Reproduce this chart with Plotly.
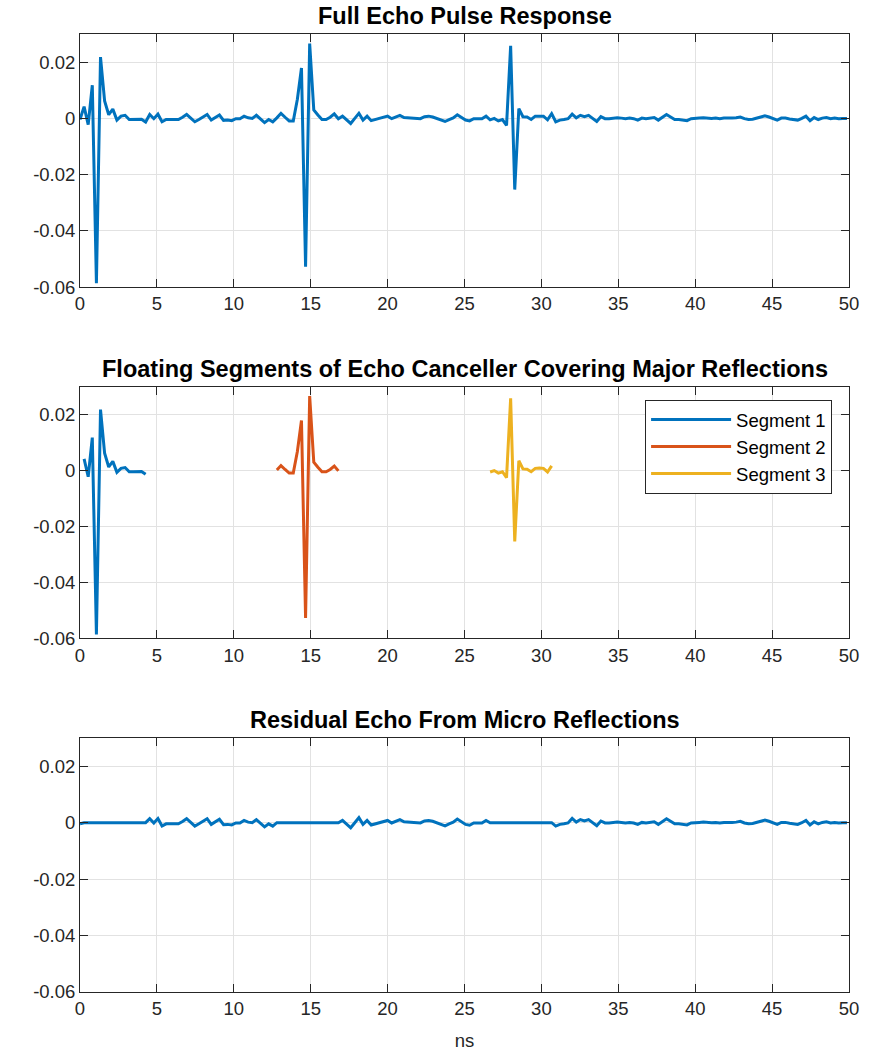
import plotly.graph_objects as go
from plotly.subplots import make_subplots

# ---- data ----
sample_period_ns = 4.0 / 15.0          # 3.75 GS/s sampling
n_samples = 188
time_ns = [i * sample_period_ns for i in range(n_samples)]

# full echo pulse response (units of 1e-3)
full_echo_milli = [
    -0.4, 4.2, -2.2, 11.8, -58.6, 21.8, 6.2, 1.3, 3.3, -0.6,
    0.8, 1.1, -0.4, -0.4, -0.4, -0.3, -1.3, 1.4, -0.1, 1.5,
    -1.2, -0.4, -0.4, -0.4, -0.4, 0.4, 1.4, 0.1, -1.2, -0.4,
    0.6, 1.4, -0.6, 0.4, 1.2, -0.7, -0.6, -0.8, -0.1, -0.1,
    0.8, 0.2, 0.0, 1.1, -0.1, -1.5, -0.4, -1.2, 0.2, 1.8,
    0.4, -0.9, -0.9, 6.8, 17.9, -52.7, 26.6, 3.0, 1.2, -0.4,
    -0.4, 0.4, 1.6, -0.1, 0.8, -0.6, -1.8, 0.0, 1.8, -0.6,
    0.8, -0.8, -0.4, -0.1, 0.4, 0.8, -0.1, 0.4, 1.1, 0.3,
    0.2, -0.1, -0.1, -0.1, 0.6, 0.8, 0.5, 0.0, -0.6, -1.1,
    -0.4, 0.2, 1.3, 0.2, -0.6, -0.9, -0.1, -0.1, -0.1, 0.8,
    -0.5, 0.0, -0.9, -0.4, -2.5, 25.8, -25.3, 3.5, 0.6, 0.5,
    -0.4, 0.8, 0.9, 0.8, -0.5, 1.7, -1.2, -0.6, -0.4, -0.1,
    1.5, 0.2, 1.1, 0.6, 1.1, 0.0, -1.1, 0.6, -0.1, -0.1,
    0.1, 0.2, 0.1, -0.1, 0.1, -0.1, -0.6, 0.1, -0.1, 0.1,
    0.3, -0.6, 0.5, 1.4, 0.5, -0.4, -0.4, -0.5, -0.8, -0.1,
    -0.1, 0.1, 0.2, 0.0, 0.0, 0.1, -0.1, 0.1, 0.0, 0.1,
    0.2, 0.5, -0.1, -0.4, -0.3, 0.1, 0.6, 0.9, 0.5, -0.1,
    -0.6, 0.1, 0.1, -0.2, -0.4, -0.6, 0.0, 0.8, -0.8, 0.3,
    -0.4, 0.1, 0.3, -0.1, 0.1, -0.1, 0.0, 0.0,
]
full_echo = [v * 1e-3 for v in full_echo_milli]

segment_names = ["Segment 1", "Segment 2", "Segment 3"]
segment_start_idx = [1, 48, 100]
segment_length = 16
segment_colors = ["#0072BD", "#D95319", "#EDB120"]

x_ticks = [0, 5, 10, 15, 20, 25, 30, 35, 40, 45, 50]
y_ticks = [-0.06, -0.04, -0.02, 0, 0.02]
y_tick_text = ["-0.06", "-0.04", "-0.02", "0", "0.02"]

titles = ["Full Echo Pulse Response",
          "Floating Segments of Echo Canceller Covering Major Reflections",
          "Residual Echo From Micro Reflections"]

# residual = full echo with segment windows cancelled
residual = list(full_echo)
for s in segment_start_idx:
    for i in range(s, s + segment_length):
        residual[i] = 0.0

# ---- figure ----
FONT = "Arial, Liberation Sans, Helvetica, sans-serif"
fig = make_subplots(rows=3, cols=1)

fig.add_trace(go.Scatter(x=time_ns, y=full_echo, mode="lines",
                         line=dict(color="#0072BD", width=3), showlegend=False),
              row=1, col=1)
for name, s, c in zip(segment_names, segment_start_idx, segment_colors):
    fig.add_trace(go.Scatter(x=time_ns[s:s + segment_length],
                             y=full_echo[s:s + segment_length], mode="lines",
                             name=name, line=dict(color=c, width=3)),
                  row=2, col=1)
fig.add_trace(go.Scatter(x=time_ns, y=residual, mode="lines",
                         line=dict(color="#0072BD", width=3), showlegend=False),
              row=3, col=1)

domains = [[0.7357, 1.0], [0.3690, 0.6319], [0.0, 0.2651]]
axis_common = dict(showline=True, linecolor="#262626", linewidth=1, mirror="ticks",
                   ticks="inside", ticklen=8, tickcolor="#262626", tickwidth=1,
                   showgrid=True, gridcolor="#e2e2e2", gridwidth=1, zeroline=False,
                   automargin=False,
                   tickfont=dict(family=FONT, size=18.5, color="#262626"))
for r in range(3):
    xa = "xaxis" if r == 0 else f"xaxis{r+1}"
    ya = "yaxis" if r == 0 else f"yaxis{r+1}"
    fig.layout[xa].update(domain=[0, 1], range=[0, 50], tickvals=x_ticks, **axis_common)
    fig.layout[ya].update(domain=domains[r], range=[-0.06, 0.03], tickvals=y_ticks,
                          ticktext=y_tick_text, **axis_common)
    fig.add_annotation(text=f"<b>{titles[r]}</b>", xref="paper", yref="paper",
                       x=0.5, y=domains[r][1], xanchor="center", yanchor="bottom",
                       yshift=3, showarrow=False,
                       font=dict(family=FONT, size=23.5, color="black"))

fig.layout.xaxis3.title = dict(text="ns", font=dict(family=FONT, size=18.5, color="#262626"),
                               standoff=17)

fig.update_layout(
    width=884, height=1051,
    margin=dict(l=80, r=35, t=34, b=59),
    paper_bgcolor="white", plot_bgcolor="white",
    legend=dict(x=0.978, y=0.618, xanchor="right", yanchor="top",
                bgcolor="white", bordercolor="#262626", borderwidth=1,
                font=dict(family=FONT, size=18.5, color="black"),
                tracegroupgap=0, itemwidth=80),
)

fig.write_html("out.html")
